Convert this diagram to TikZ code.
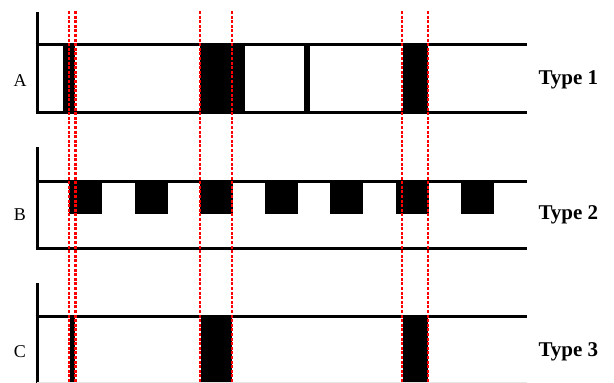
\documentclass[tikz,border=0pt]{standalone}
\usepackage{fontspec}
\setmainfont{Liberation Serif}
\begin{document}
\begin{tikzpicture}[x=1pt,y=-1pt,
  axis/.style={line width=3pt},
  hline/.style={line width=3pt},
  blk/.style={fill=black},
  marker/.style={red,line width=2.8pt,dash pattern=on 3pt off 1.6pt},
  lbl/.style={font=\fontsize{18}{18}\selectfont},
  typ/.style={font=\fontsize{21}{21}\selectfont\bfseries,anchor=west}]
\useasboundingbox (0,0) rectangle (614,383);
% Panel A
\fill[blk] (63,44) rectangle (75,112);
\fill[blk] (200,44) rectangle (245,112);
\fill[blk] (304,44) rectangle (310,112);
\fill[blk] (403,44) rectangle (428,112);
\draw[axis] (37,12) -- (37,113.5);
\draw[hline] (35.5,44) -- (527,44);
\draw[hline] (35.5,112) -- (527,112);
\node[lbl] (la) at (20,81) {A};
\node[typ] (ta) at (535,80) {Type 1};
% Panel B
\foreach \x in {69,134.5,200,265,330,396,461}
  \fill[blk] (\x,181) rectangle (\x+33,214);
\draw[axis] (37,147) -- (37,249.5);
\draw[hline] (35.5,181) -- (527,181);
\draw[hline] (35.5,248) -- (527,248);
\node[lbl] (lb) at (20,215) {B};
\node[typ] (tb) at (535,215) {Type 2};
% Panel C
\fill[blk] (70,316) rectangle (75,383);
\fill[blk] (201,316) rectangle (232,383);
\fill[blk] (403,316) rectangle (428,383);
\draw[axis] (37,283) -- (37,383);
\draw[hline] (35.5,316) -- (527,316);
\draw[black!10,line width=0.8pt] (37,382.5) -- (527,382.5);
\node[lbl] (lc) at (20,352) {C};
\node[typ] (tc) at (535,352) {Type 3};
% red dotted markers
\foreach \x in {69,75.7,200,232,402,428}
  \draw[marker] (\x,11) -- (\x,383);
\end{tikzpicture}
\end{document}
